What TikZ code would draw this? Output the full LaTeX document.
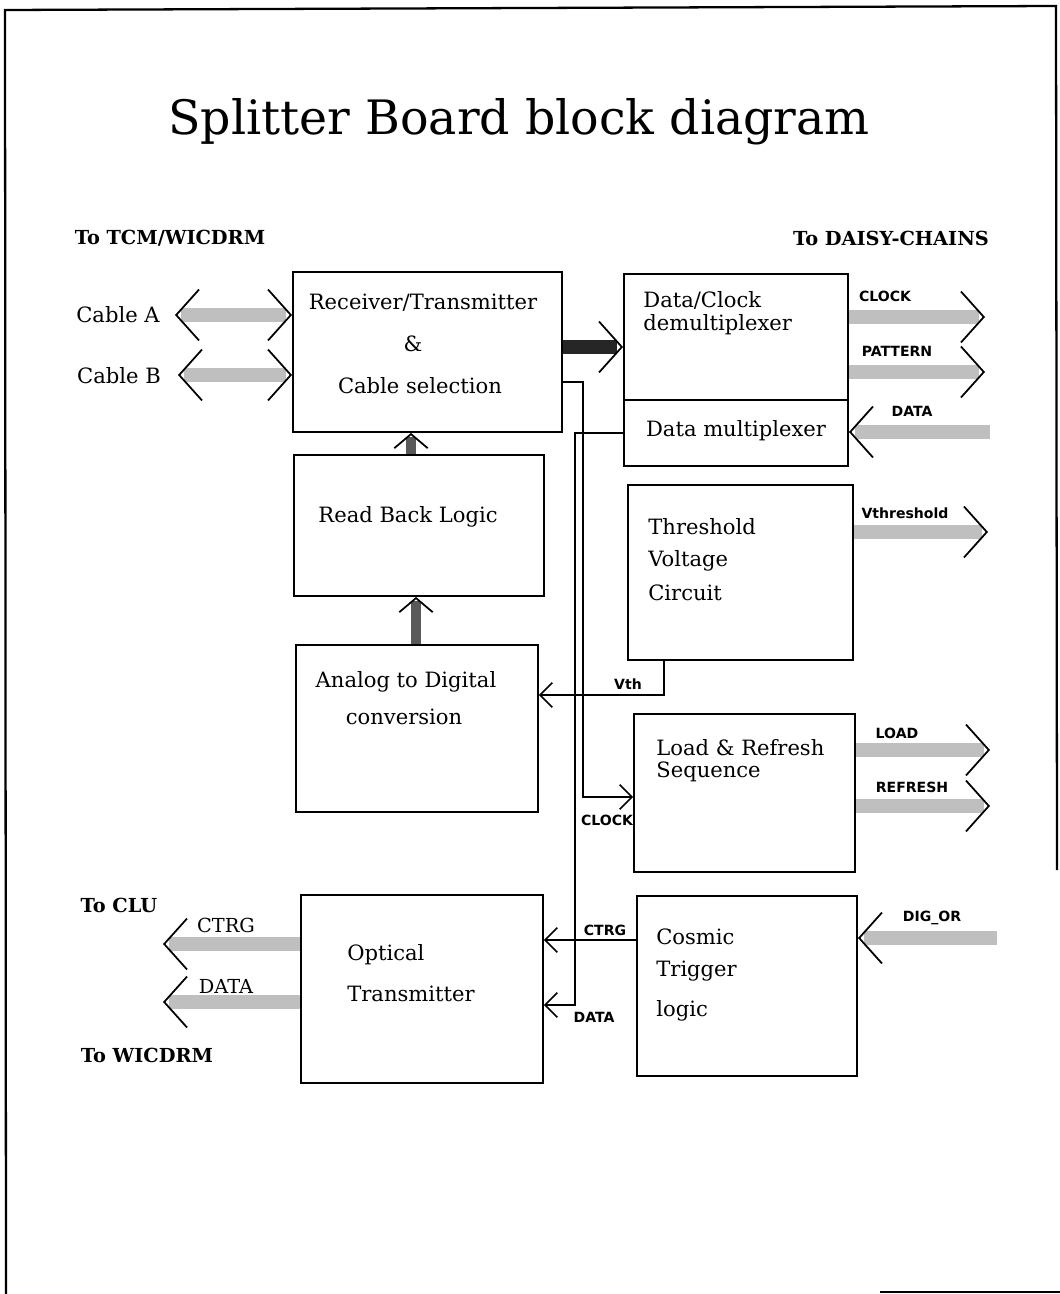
\documentclass[tikz,border=0pt]{standalone}
\usepackage{fontspec}
\setmainfont{DejaVu Serif}
\setsansfont{DejaVu Sans}
\usetikzlibrary{arrows.meta,decorations.markings,fit}

\tikzset{
  bigbarb/.tip={Straight Barb[black, length=13pt, width=29pt, line width=1pt]},
  smallbarb/.tip={Straight Barb[black, length=8pt, width=19pt, line width=1pt]},
  thinbarb/.tip={Straight Barb[black, length=7pt, width=14pt, line width=0.9pt]},
  blk/.style={draw, line width=1.1pt, inner sep=0pt},
  txt/.style={inner sep=0pt, font=\fontsize{12}{14}\selectfont},
  ttl/.style={inner sep=0pt, font=\fontsize{27}{32}\selectfont},
  hdr/.style={inner sep=0pt, font=\fontsize{11}{13}\selectfont\bfseries},
  sigtxt/.style={inner sep=0pt, font=\sffamily\fontsize{8}{10}\selectfont\bfseries},
  bus/.style={draw=#1, line width=8pt, shorten >=3.5pt,
    postaction={decorate, decoration={markings,
      mark=at position 1 with {\arrow{bigbarb}}}}},
  bus/.default=gray!50,
  bibus/.style={bus, shorten <=3.5pt,
    postaction={decorate, decoration={markings,
      mark=at position 0 with {\arrowreversed{bigbarb}}}}},
  vbus/.style={draw=black!65, line width=6pt, shorten >=2.5pt,
    postaction={decorate, decoration={markings,
      mark=at position 1 with {\arrow{smallbarb}}}}},
  sig/.style={line width=0.9pt, -{thinbarb}},
}

\begin{document}
\begin{tikzpicture}[x=0.02cm, y=-0.02cm]
\useasboundingbox (0,0) rectangle (1060,1294);
% page frame
\draw[line width=1.3pt] (6,1294) -- (5,10) -- (1056,6) -- (1057,870);
\draw[line width=1pt] (880,1292) -- (1060,1292);

% headings
\node[ttl] (title) at (519,122) {Splitter Board block diagram};
\node[hdr] (totcm) at (170,238) {To TCM/WICDRM};
\node[hdr] (todc) at (891,238) {To DAISY-CHAINS};
\node[hdr] (toclu) at (119,905) {To CLU};
\node[hdr] (towic) at (147,1055) {To WICDRM};

% blocks
\node[blk, fit={(293,272) (562,432)}] (rxtx) {};
\node[blk, fit={(624,274) (848,400)}] (dcd) {};
\node[blk, fit={(624,400) (848,466)}] (dmx) {};
\node[blk, fit={(294,455) (544,596)}] (rb) {};
\node[blk, fit={(628,485) (853,660)}] (thr) {};
\node[blk, fit={(296,645) (538,812)}] (adc) {};
\node[blk, fit={(634,714) (855,872)}] (ldr) {};
\node[blk, fit={(301,895) (543,1083)}] (opt) {};
\node[blk, fit={(637,896) (857,1076)}] (ctl) {};

% block texts
\node[txt] (rxtx1) at (423,303) {Receiver/Transmitter};
\node[txt] (rxtx2) at (413,344) {\&};
\node[txt] (rxtx3) at (420,386) {Cable selection};
\node[txt, anchor=west] (dcd1) at (643,300) {Data/Clock};
\node[txt, anchor=west] (dcd2) at (643,325) {demultiplexer};
\node[txt] (dmx1) at (736,431) {Data multiplexer};
\node[txt] (rb1) at (408,517) {Read Back Logic};
\node[txt, anchor=west] (thr1) at (648,527) {Threshold};
\node[txt, anchor=west] (thr2) at (648,561) {Voltage};
\node[txt, anchor=west] (thr3) at (648,593) {Circuit};
\node[txt] (adc1) at (406,682) {Analog to Digital};
\node[txt] (adc2) at (404,717) {conversion};
\node[txt, anchor=west] (ldr1) at (656,748) {Load \& Refresh};
\node[txt, anchor=west] (ldr2) at (656,772) {Sequence};
\node[txt, anchor=west] (opt1) at (347,955) {Optical};
\node[txt, anchor=west] (opt2) at (347,994) {Transmitter};
\node[txt, anchor=west] (ctl1) at (656,937) {Cosmic};
\node[txt, anchor=west] (ctl2) at (656,971) {Trigger};
\node[txt, anchor=west] (ctl3) at (656,1011) {logic};

% free ends
\coordinate (cblA) at (175,315);
\coordinate (cblB) at (178,375);
\coordinate (clko) at (985,317);
\coordinate (pato) at (985,372);
\coordinate (dati) at (990,432);
\coordinate (vtho) at (988,532);
\coordinate (lodo) at (990,750);
\coordinate (refo) at (990,806);
\coordinate (digi) at (997,938);
\coordinate (ctro) at (163,944);
\coordinate (dato) at (163,1002);

% cables
\node[txt] (labA) at (118,315) {Cable A};
\node[txt] (labB) at (119,376) {Cable B};
\draw[bibus] (cblA) -- (rxtx.west |- cblA);
\draw[bibus] (cblB) -- (rxtx.west |- cblB);

% internal buses
\draw[bus=black!85] (rxtx.east |- 0,347) -- (dcd.west |- 0,347);
\draw[vbus] (411,0 |- rb.north) -- (411,0 |- rxtx.south);
\draw[vbus] (416,0 |- adc.north) -- (416,0 |- rb.south);

% daisy-chain buses
\draw[bus] (dcd.east |- clko) -- (clko);
\draw[bus] (dcd.east |- pato) -- (pato);
\draw[bus] (dati) -- (dmx.east |- dati);
\draw[bus] (thr.east |- vtho) -- (vtho);
\draw[bus] (ldr.east |- lodo) -- (lodo);
\draw[bus] (ldr.east |- refo) -- (refo);
\draw[bus] (digi) -- (ctl.east |- digi);
\draw[bus] (opt.west |- ctro) -- (ctro);
\draw[bus] (opt.west |- dato) -- (dato);
\node[sigtxt] (labclk) at (885,296) {CLOCK};
\node[sigtxt] (labpat) at (897,351) {PATTERN};
\node[sigtxt] (labdat) at (912,411) {DATA};
\node[sigtxt] (labvth) at (905,513) {Vthreshold};
\node[sigtxt] (lablod) at (897,733) {LOAD};
\node[sigtxt] (labref) at (912,787) {REFRESH};
\node[sigtxt] (labdig) at (932,918) {DIG\_OR};
\node[txt, font=\fontsize{11}{13}\selectfont] (labctr) at (226,925) {CTRG};
\node[txt, font=\fontsize{11}{13}\selectfont] (labdto) at (226,986) {DATA};

% single wires
\draw[sig] (664,0 |- thr.south) |- (adc.east |- 0,695);
\draw[sig] (rxtx.east |- 0,382) -| (583,797) -- (ldr.west |- 0,797);
\draw[sig] (dmx.west) -| (575,1005) -- (opt.east |- 0,1005);
\draw[sig] (ctl.west |- 0,940) -- (opt.east |- 0,940);
\node[sigtxt] (labvt) at (628,684) {Vth};
\node[sigtxt] (labck) at (607,820) {CLOCK};
\node[sigtxt] (labct) at (605,930) {CTRG};
\node[sigtxt] (labdt) at (594,1017) {DATA};
\end{tikzpicture}
\end{document}
